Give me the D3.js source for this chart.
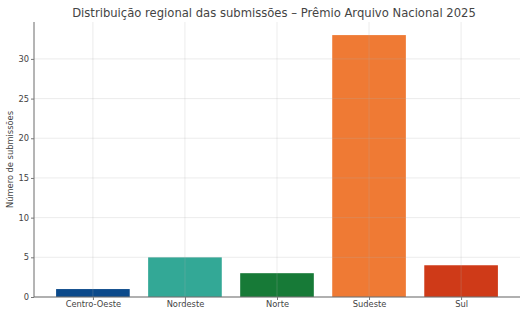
<!DOCTYPE html>
<html><head><meta charset="utf-8">
<script src="https://cdn.jsdelivr.net/npm/d3@7"></script>
<style>body{margin:0;background:#fff}svg{display:block}</style>
</head><body>
<script>
const categories = ["Centro-Oeste","Nordeste","Norte","Sudeste","Sul"];
const values = [1,5,3,33,4];
const colors = ["#0b4a8b","#33a896","#177a37","#ef7a34","#cf3a18"];
const yTicks = [0,5,10,15,20,25,30];
const title = "Distribuição regional das submissões – Prêmio Arquivo Nacional 2025";
const yLabel = "Número de submissões";

const W=528,H=317, m={l:34,r:8,t:22,b:20};
const svg=d3.select("body").append("svg").attr("width",W).attr("height",H);
const font="DejaVu Sans, sans-serif";
const x=d3.scaleLinear().domain([-0.64,4.64]).range([m.l,W-m.r]);
const y=d3.scaleLinear().domain([0,34.65]).range([H-m.b,m.t]);
const bw=x(0.4)-x(-0.4);

const g=svg.append("g");
g.selectAll("rect").data(values).join("rect")
 .attr("x",(d,i)=>x(i)-bw/2).attr("width",bw)
 .attr("y",d=>y(d)).attr("height",d=>y(0)-y(d))
 .attr("fill",(d,i)=>colors[i]);

// grid
const grid=svg.append("g").attr("stroke","#b0b0b0").attr("stroke-opacity",0.3).attr("stroke-width",0.8);
grid.selectAll(".h").data(yTicks).join("line").attr("x1",m.l).attr("x2",W-m.r).attr("y1",d=>y(d)).attr("y2",d=>y(d));
grid.selectAll(".v").data(categories).join("line").attr("x1",(d,i)=>x(i)).attr("x2",(d,i)=>x(i)).attr("y1",m.t).attr("y2",H-m.b);

// axes
const ya=svg.append("g").attr("transform",`translate(${m.l},0)`)
 .call(d3.axisLeft(y).tickValues(yTicks).tickSize(3).tickPadding(2));
const xa=svg.append("g").attr("transform",`translate(0,${H-m.b})`)
 .call(d3.axisBottom(x).tickValues(d3.range(categories.length)).tickFormat(i=>categories[i]).tickSize(3).tickPadding(1.5));
[ya,xa].forEach(a=>{a.selectAll("text").attr("font-family",font).attr("font-size",8.3).attr("fill","#444");
 a.selectAll("line").attr("stroke","#777");a.select(".domain").attr("stroke","#6a6a6a").attr("stroke-width",1);});
xa.select(".domain").attr("d",`M${m.l},0H${W-m.r}`);
ya.select(".domain").attr("d",`M0,${y(0)}V${m.t}`);

svg.append("text").attr("x",274).attr("y",17).attr("text-anchor","middle")
 .attr("font-family",font).attr("font-size",11.6).attr("fill","#444").text(title);
svg.append("text").attr("transform",`translate(13,${(m.t+H-m.b)/2}) rotate(-90)`).attr("text-anchor","middle")
 .attr("font-family",font).attr("font-size",8.3).attr("fill","#444").text(yLabel);
</script>
</body></html>
